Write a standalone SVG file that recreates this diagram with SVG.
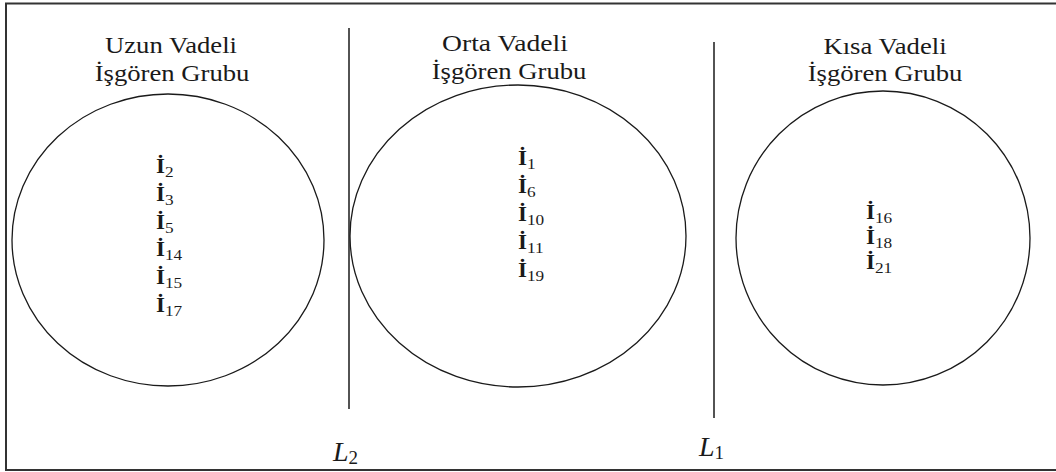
<svg xmlns="http://www.w3.org/2000/svg" width="1056" height="472" viewBox="0 0 1056 472">
<style>
.t{font-family:"Liberation Serif","Times New Roman",serif;font-size:23px;fill:#1a1a1a;text-anchor:middle}
.i{font-family:"Liberation Serif","Times New Roman",serif;font-size:20px;font-weight:bold;fill:#1a1a1a}
.s{font-size:15px;font-weight:normal}
.L{font-family:"Liberation Serif","Times New Roman",serif;font-size:28px;font-style:italic;fill:#1a1a1a}
.L .s{font-size:19px;font-style:normal}
.c{fill:none;stroke:#1a1a1a;stroke-width:1.3}
.ln{stroke:#1a1a1a;stroke-width:1.5}
</style>
<rect x="0" y="0" width="1056" height="472" fill="#fff"/>
<rect x="6" y="3.5" width="1060" height="466.5" fill="none" stroke="#333" stroke-width="2"/>
<g id="lines">
<line class="ln" x1="349" y1="28" x2="349" y2="409"/>
<line class="ln" x1="714" y1="42" x2="714" y2="418"/>
<text class="L" transform="translate(333 461)">L<tspan class="s" dy="3">2</tspan></text>
<text class="L" transform="translate(699 456)">L<tspan class="s" dy="3">1</tspan></text>
</g>
<g id="uzun">
<text class="t" transform="translate(171 53) scale(1.16 1)">Uzun Vadeli</text>
<text class="t" transform="translate(172 81) scale(1.16 1)">İşgören Grubu</text>
<ellipse class="c" cx="168" cy="240" rx="156" ry="146"/>
<text class="i" transform="translate(156 173) scale(1.15 1)">İ<tspan class="s" dy="4">2</tspan></text>
<text class="i" transform="translate(156 201) scale(1.15 1)">İ<tspan class="s" dy="4">3</tspan></text>
<text class="i" transform="translate(156 229) scale(1.15 1)">İ<tspan class="s" dy="4">5</tspan></text>
<text class="i" transform="translate(156 256) scale(1.15 1)">İ<tspan class="s" dy="4">14</tspan></text>
<text class="i" transform="translate(156 284) scale(1.15 1)">İ<tspan class="s" dy="4">15</tspan></text>
<text class="i" transform="translate(156 312) scale(1.15 1)">İ<tspan class="s" dy="4">17</tspan></text>
</g>
<g id="orta">
<text class="t" transform="translate(505 51) scale(1.2 1)">Orta Vadeli</text>
<text class="t" transform="translate(509 79) scale(1.16 1)">İşgören Grubu</text>
<ellipse class="c" cx="518" cy="236" rx="168" ry="151"/>
<text class="i" transform="translate(518 165) scale(1.15 1)">İ<tspan class="s" dy="4">1</tspan></text>
<text class="i" transform="translate(518 193) scale(1.15 1)">İ<tspan class="s" dy="4">6</tspan></text>
<text class="i" transform="translate(518 221) scale(1.15 1)">İ<tspan class="s" dy="4">10</tspan></text>
<text class="i" transform="translate(518 249) scale(1.15 1)">İ<tspan class="s" dy="4">11</tspan></text>
<text class="i" transform="translate(518 277) scale(1.15 1)">İ<tspan class="s" dy="4">19</tspan></text>
</g>
<g id="kisa">
<text class="t" transform="translate(885 54) scale(1.16 1)">Kısa Vadeli</text>
<text class="t" transform="translate(885 81) scale(1.16 1)">İşgören Grubu</text>
<ellipse class="c" cx="883" cy="238" rx="147" ry="147"/>
<text class="i" transform="translate(866 219) scale(1.15 1)">İ<tspan class="s" dy="4">16</tspan></text>
<text class="i" transform="translate(866 244) scale(1.15 1)">İ<tspan class="s" dy="4">18</tspan></text>
<text class="i" transform="translate(866 269) scale(1.15 1)">İ<tspan class="s" dy="4">21</tspan></text>
</g>
</svg>
